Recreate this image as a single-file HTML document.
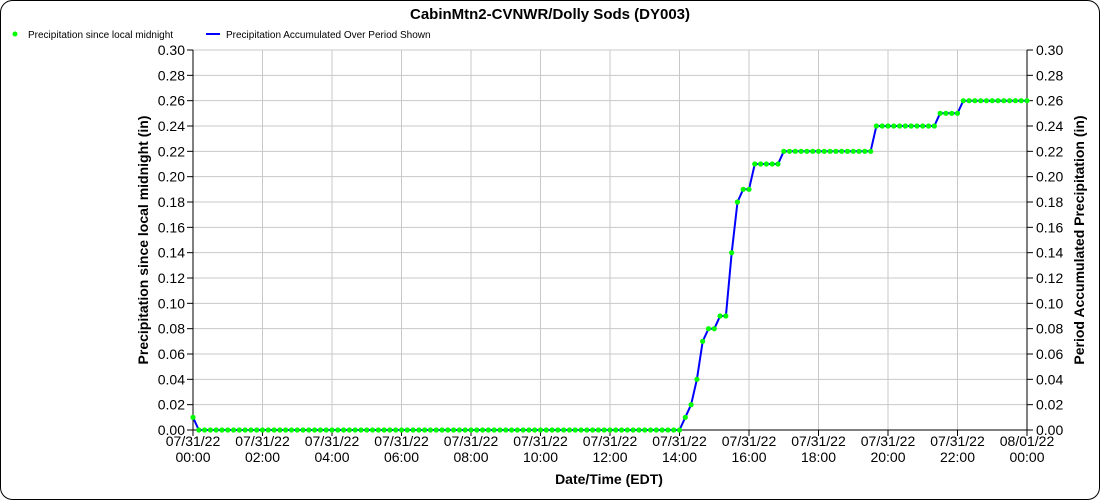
<!DOCTYPE html><html><head><style>html,body{margin:0;background:#fff;overflow:hidden}svg{display:block;font-family:"Liberation Sans",sans-serif}</style></head><body>
<svg id="s" width="1100" height="500" xmlns="http://www.w3.org/2000/svg">
<rect x="0.5" y="0.5" width="1099" height="499" rx="12" fill="#fff" stroke="#000"/>
<text x="550" y="19" font-size="15" font-weight="bold" text-anchor="middle">CabinMtn2-CVNWR/Dolly Sods (DY003)</text>
<circle cx="15" cy="34" r="2.5" fill="#00ff00"/>
<text x="28" y="38" font-size="10">Precipitation since local midnight</text>
<line x1="206" y1="34" x2="220" y2="34" stroke="#0000ff" stroke-width="2"/>
<text x="226" y="38" font-size="10">Precipitation Accumulated Over Period Shown</text>
<g id="grid" stroke="#c8c8c8" stroke-width="1"></g>
<g id="ticks" font-size="14"></g>
<line x1="193" y1="50" x2="193" y2="430" stroke="#000"/>
<line x1="1027" y1="50" x2="1027" y2="430" stroke="#000"/>
<line x1="193" y1="430" x2="1027" y2="430" stroke="#000"/>
<text x="609" y="484" font-size="14" font-weight="bold" text-anchor="middle">Date/Time (EDT)</text>
<text transform="translate(148,240) rotate(-90)" font-size="14" font-weight="bold" text-anchor="middle">Precipitation since local midnight (in)</text>
<text transform="translate(1084,240) rotate(-90)" font-size="14" font-weight="bold" text-anchor="middle">Period Accumulated Precipitation (in)</text>
<polyline fill="none" stroke="#0000ff" stroke-width="2" points="193,417.3 198.8,430 679.5,430 685.3,417.3 691.1,404.7 696.9,379.3 702.7,341.3 708.5,328.7 714.3,328.7 720.1,316 725.9,316 731.7,252.7 737.5,202 743.2,189.3 749,189.3 754.8,164 778,164 783.8,151.3 870.6,151.3 876.4,126 934.3,126 940.1,113.3 957.5,113.3 963.3,100.7 1027,100.7"/>
<g id="dots" fill="#00ff00"></g>
</svg>
<script>
var ns="http://www.w3.org/2000/svg";function el(p,t,a,tx){var e=document.createElementNS(ns,t);for(var k in a)e.setAttribute(k,a[k]);if(tx)e.textContent=tx;document.getElementById(p).appendChild(e);}
for(var i=0;i<=15;i++){var y=430-i*25.333,v=(i*0.02).toFixed(2);
if(i>0)el("grid","line",{x1:193,x2:1027,y1:y,y2:y});
el("ticks","line",{x1:187,x2:193,y1:y,y2:y,stroke:"#000"});el("ticks","line",{x1:1027,x2:1033,y1:y,y2:y,stroke:"#000"});
el("ticks","text",{x:185,y:y+5,"text-anchor":"end"},v);el("ticks","text",{x:1036,y:y+5},v);}
for(var k=0;k<=12;k++){var x=193+k*69.5;if(k>0&&k<12)el("grid","line",{x1:x,x2:x,y1:50,y2:430});
el("ticks","line",{x1:x,x2:x,y1:430,y2:436,stroke:"#000"});
var d=k<12?"07/31/22":"08/01/22",h=k<12?(("0"+(2*k)).slice(-2)+":00"):"00:00";
el("ticks","text",{x:x,y:446,"text-anchor":"middle"},d);el("ticks","text",{x:x,y:462,"text-anchor":"middle"},h);}
function val(i){if(i==0)return .01;if(i<=84)return 0;var m={85:.01,86:.02,87:.04,88:.07,89:.08,90:.08,91:.09,92:.09,93:.14,94:.18,95:.19,96:.19};if(m[i]!==undefined)return m[i];
if(i<=101)return .21;if(i<=117)return .22;if(i<=128)return .24;if(i<=132)return .25;return .26;}
for(var i=0;i<=144;i++)el("dots","circle",{cx:193+i*5.7917,cy:430-val(i)*1266.67,r:2.6});
</script></body></html>
